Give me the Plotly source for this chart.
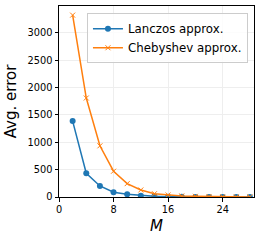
import plotly.graph_objects as go

M = [2, 4, 6, 8, 10, 12, 14, 16, 18, 20, 22, 24, 26, 28]
lanczos = [1387, 434, 202, 86, 49, 24, 12, 6, 3, 2, 1, 0.5, 0.3, 0.2]
chebyshev = [3323, 1809, 935, 471, 244, 128, 60, 37, 20, 12, 8, 5, 3, 2]
x_ticks = [0, 8, 16, 24]
y_ticks = [0, 500, 1000, 1500, 2000, 2500, 3000]

fig = go.Figure()
fig.add_trace(go.Scatter(
    x=M, y=lanczos, mode="lines+markers", name="Lanczos approx.",
    line=dict(color="#1f77b4", width=1.5),
    marker=dict(symbol="circle", size=6, color="#1f77b4"),
))
fig.add_trace(go.Scatter(
    x=M, y=chebyshev, mode="lines+markers", name="Chebyshev approx.",
    line=dict(color="#ff7f0e", width=1.5),
    marker=dict(symbol="x-thin", size=5, color="#ff7f0e", line=dict(color="#ff7f0e", width=1)),
))

axis_common = dict(
    showline=True, linecolor="black", linewidth=1, mirror=True,
    ticks="outside", ticklen=3.5, tickwidth=1, tickcolor="black",
    showgrid=True, gridcolor="#eeeeee", gridwidth=1, zeroline=False,
    automargin=False,
    tickfont=dict(family="DejaVu Sans", size=9.8, color="black"),
)

fig.update_layout(
    template="none",
    width=261, height=241,
    margin=dict(l=59, r=7, t=6, b=44, autoexpand=False),
    paper_bgcolor="white", plot_bgcolor="white",
    font=dict(family="DejaVu Sans", color="black"),
    xaxis=dict(range=[0, 28.6], tickvals=x_ticks, ticktext=[str(v) for v in x_ticks],
               title=dict(text="<i>M</i>", font=dict(family="DejaVu Sans", size=15, color="black"), standoff=6),
               **axis_common),
    yaxis=dict(range=[0, 3490], tickvals=y_ticks, ticktext=[str(v) for v in y_ticks],
               title=dict(text="Avg. error", font=dict(family="DejaVu Sans", size=15, color="black"), standoff=7),
               **axis_common),
    legend=dict(x=0.969, y=0.962, xanchor="right", yanchor="top", itemwidth=30,
                bgcolor="rgba(255,255,255,0.8)", bordercolor="#cccccc", borderwidth=1,
                font=dict(size=11.8, family="DejaVu Sans"), tracegroupgap=0),
    showlegend=True,
)

fig.write_html("out.html", config={"displayModeBar": False},
               post_script="document.body.style.margin='0';document.body.style.overflow='hidden';")
